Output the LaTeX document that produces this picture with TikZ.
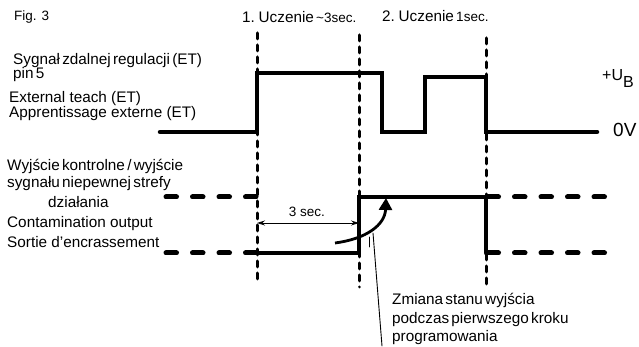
\documentclass[tikz,border=0pt]{standalone}
\usepackage{fontspec}
\setmainfont{Liberation Sans}
\usepackage{tkz-euclide}
\usetikzlibrary{arrows.meta}

\tikzset{
  sig/.style={line width=4.5pt},
  tmark/.style={line width=3pt, dash pattern=on 6pt off 6pt},
  dsig/.style={line width=5pt, dash pattern=on 10.5pt off 16pt},
  txt/.style={anchor=base west, inner sep=0pt, font=\fontsize{15.3}{17}\selectfont},
  smalltxt/.style={txt, font=\fontsize{13.5}{15}\selectfont},
}
\newcommand{\tightwords}{\spaceskip=0.15em plus 0.05em\relax}

\begin{document}
\begin{tikzpicture}[x=1pt,y=1pt]
	\useasboundingbox (0,0) rectangle (639,347);

	\tkzDefPoint(257,314){T1}
	\tkzDefPoint(257,64){B1}
	\tkzDefPoint(359,312){T2}
	\tkzDefPoint(359,60){B2}
	\tkzDefPoint(486,309){T3}
	\tkzDefPoint(486,59){B3}

	\tkzDefPoint(160,215){E1}
	\tkzDefPoint(257,215){E2}
	\tkzDefPoint(257,274){E3}
	\tkzDefPoint(382,274){E4}
	\tkzDefPoint(382,215){E5}
	\tkzDefPoint(425,215){E6}
	\tkzDefPoint(425,270){E7}
	\tkzDefPoint(486,270){E8}
	\tkzDefPoint(486,215){E9}
	\tkzDefPoint(597,215){E10}

	\tkzDefPoint(166,150){H1}
	\tkzDefPoint(257,150){H2}
	\tkzDefPoint(166,94){L1}
	\tkzDefPoint(257,94){L2}
	\tkzDefPoint(359,94){K1}
	\tkzDefPoint(359,150){K2}
	\tkzDefPoint(486,150){K3}
	\tkzDefPoint(486,94){K4}
	\tkzDefPoint(488,150){H3}
	\tkzDefPoint(606,150){H4}
	\tkzDefPoint(488,94){L3}
	\tkzDefPoint(606,94){L4}

	\tkzDefPoint(257,124){S1}
	\tkzDefPoint(359,124){S2}
	\tkzDefPoint(335,104){C1}
	\tkzDefPoint(366,108){C2}
	\tkzDefPoint(385,122){C3}
	\tkzDefPoint(386,149){C4}
	\tkzDefPoint(373,114){P1}
	\tkzDefPoint(382,1){P2}
	\tkzDefPoint(369,110){Q1}
	\tkzDefPoint(369,100){Q2}

	\tkzDrawSegment[tmark](T1,B1)
	\tkzDrawSegment[tmark](T2,B2)
	\tkzDrawSegment[tmark](T3,B3)

	\tkzDrawPolySeg[sig](E1,E2,E3,E4,E5,E6,E7,E8,E9,E10)

	\tkzDrawSegment[dsig](H1,H2)
	\tkzDrawSegment[dsig](L1,L2)
	\tkzDrawPolySeg[sig](L2,K1,K2,K3,K4)
	\tkzDrawSegment[dsig](H3,H4)
	\tkzDrawSegment[dsig](L3,L4)

	\draw[line width=0.8pt, {Stealth[length=8pt,width=5pt]}-{Stealth[length=8pt,width=5pt]}] (S1) -- (S2);
	\draw[line width=2.8pt, -{Triangle[length=12pt,width=13pt]}] (C1) .. controls (C2) and (C3) .. (C4);
	\tkzDrawSegment[line width=0.9pt](P1,P2)
	\tkzDrawSegment[line width=0.9pt](Q1,Q2)

	\node[smalltxt] (fig) at (14,326) {Fig. 3};
	\node[txt] (learn1) at (242,324) {\tightwords 1. Uczenie {\fontsize{13.5}{15}\selectfont \textasciitilde3sec.}};
	\node[txt] (learn2) at (382,325) {\tightwords 2. Uczenie {\fontsize{13.5}{15}\selectfont 1sec.}};

	\node[txt] (et1) at (13,282) {\tightwords Sygnał zdalnej regulacji (ET)};
	\node[txt] (et2) at (13,268) {\tightwords pin 5};
	\node[txt] (et3) at (9,244) {External teach (ET)};
	\node[txt] (et4) at (9,229) {Apprentissage externe (ET)};

	\node[txt] (co1) at (7,176) {\tightwords Wyjście kontrolne / wyjście};
	\node[txt] (co2) at (7,159) {\tightwords sygnału niepewnej strefy};
	\node[txt] (co3) at (48,139) {działania};
	\node[txt] (co4) at (7,119) {Contamination output};
	\node[txt] (co5) at (7,99) {Sortie d’encrassement};

	\node[txt, font=\fontsize{16}{18}\selectfont] (ub) at (602,266) {+U\raisebox{-7pt}{B}};
	\node[txt, font=\fontsize{19}{21}\selectfont] (zero) at (613,210) {0V};

	\node[smalltxt, anchor=base] (sec) at (307,130) {3 sec.};

	\node[txt] (note1) at (392,42) {\tightwords Zmiana stanu wyjścia};
	\node[txt] (note2) at (392,23) {\tightwords podczas pierwszego kroku};
	\node[txt] (note3) at (392,5) {programowania};
\end{tikzpicture}
\end{document}
